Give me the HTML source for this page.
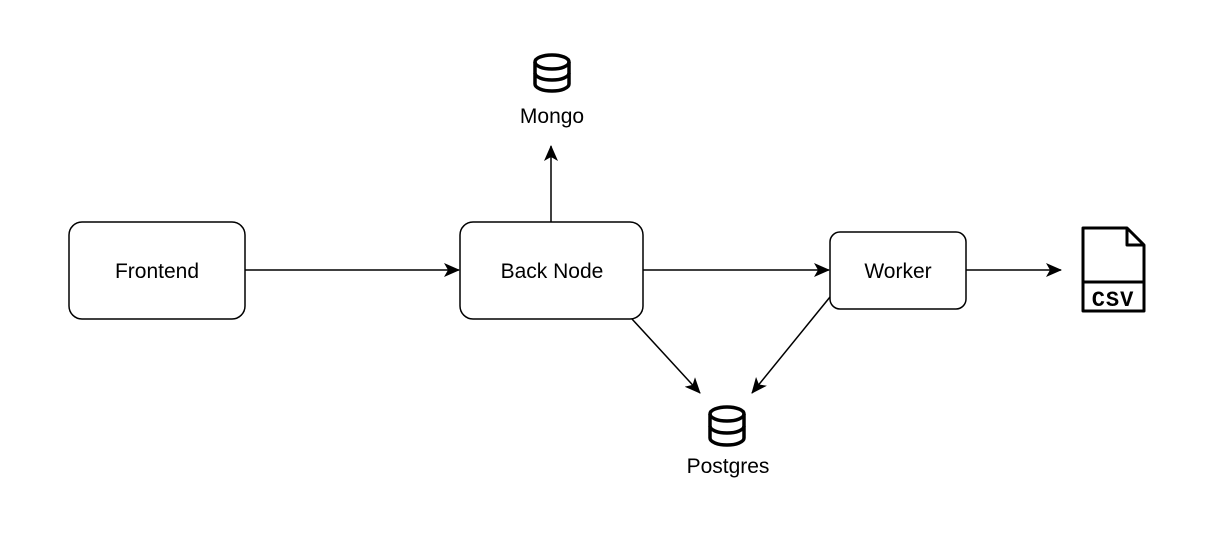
<!DOCTYPE html>
<html><head><style>body{margin:0;background:#fff}</style></head><body>
<svg width="1228" height="535" xmlns="http://www.w3.org/2000/svg" font-family="Liberation Sans, sans-serif">
<defs><marker id="a" markerWidth="16" markerHeight="14" refX="15" refY="7" orient="auto" markerUnits="userSpaceOnUse"><path d="M0,0 L16,7 L0,14 L4,7 z" fill="#000"/></marker></defs>
<rect width="1228" height="535" fill="#fff"/>
<g fill="#fff" stroke="#000" stroke-width="1.5">
<rect x="69" y="222" width="176" height="97" rx="13"/>
<rect x="460" y="222" width="183" height="97" rx="13"/>
<rect x="830" y="232" width="136" height="77" rx="10"/>
</g>
<g font-size="21" text-anchor="middle" fill="#000">
<text x="157" y="278">Frontend</text>
<text x="552" y="278">Back Node</text>
<text x="898" y="278">Worker</text>
<text x="552" y="123">Mongo</text>
<text x="728" y="473">Postgres</text>
</g>
<g stroke="#000" stroke-width="1.5" marker-end="url(#a)">
<line x1="245" y1="270" x2="459" y2="270"/>
<line x1="643" y1="270" x2="829" y2="270"/>
<line x1="966" y1="270" x2="1061" y2="270"/>
<line x1="551" y1="222" x2="551" y2="146"/>
<line x1="632" y1="319" x2="700" y2="393"/>
<line x1="830" y1="297" x2="752" y2="393"/>
</g>
<g fill="none" stroke="#000" stroke-width="3.5">
<path d="M535,62 a17,7 0 0 1 34,0 v22 a17,7 0 0 1 -34,0 z"/>
<path d="M535,62 a17,7 0 0 0 34,0 M535,73 a17,7 0 0 0 34,0"/>
<path d="M710,414 a17,7 0 0 1 34,0 v24 a17,7 0 0 1 -34,0 z"/>
<path d="M710,414 a17,7 0 0 0 34,0 M710,426 a17,7 0 0 0 34,0"/>
<path d="M1083,228 h44 l17,17 v66 h-61 z M1127,228 v17 h17 M1083,282 h61" stroke-width="3" stroke-linejoin="round"/>
</g>
<text x="1113" y="306" font-size="22" font-weight="bold" text-anchor="middle" font-family="Liberation Mono, monospace" letter-spacing="1">CSV</text>
</svg>
</body></html>
